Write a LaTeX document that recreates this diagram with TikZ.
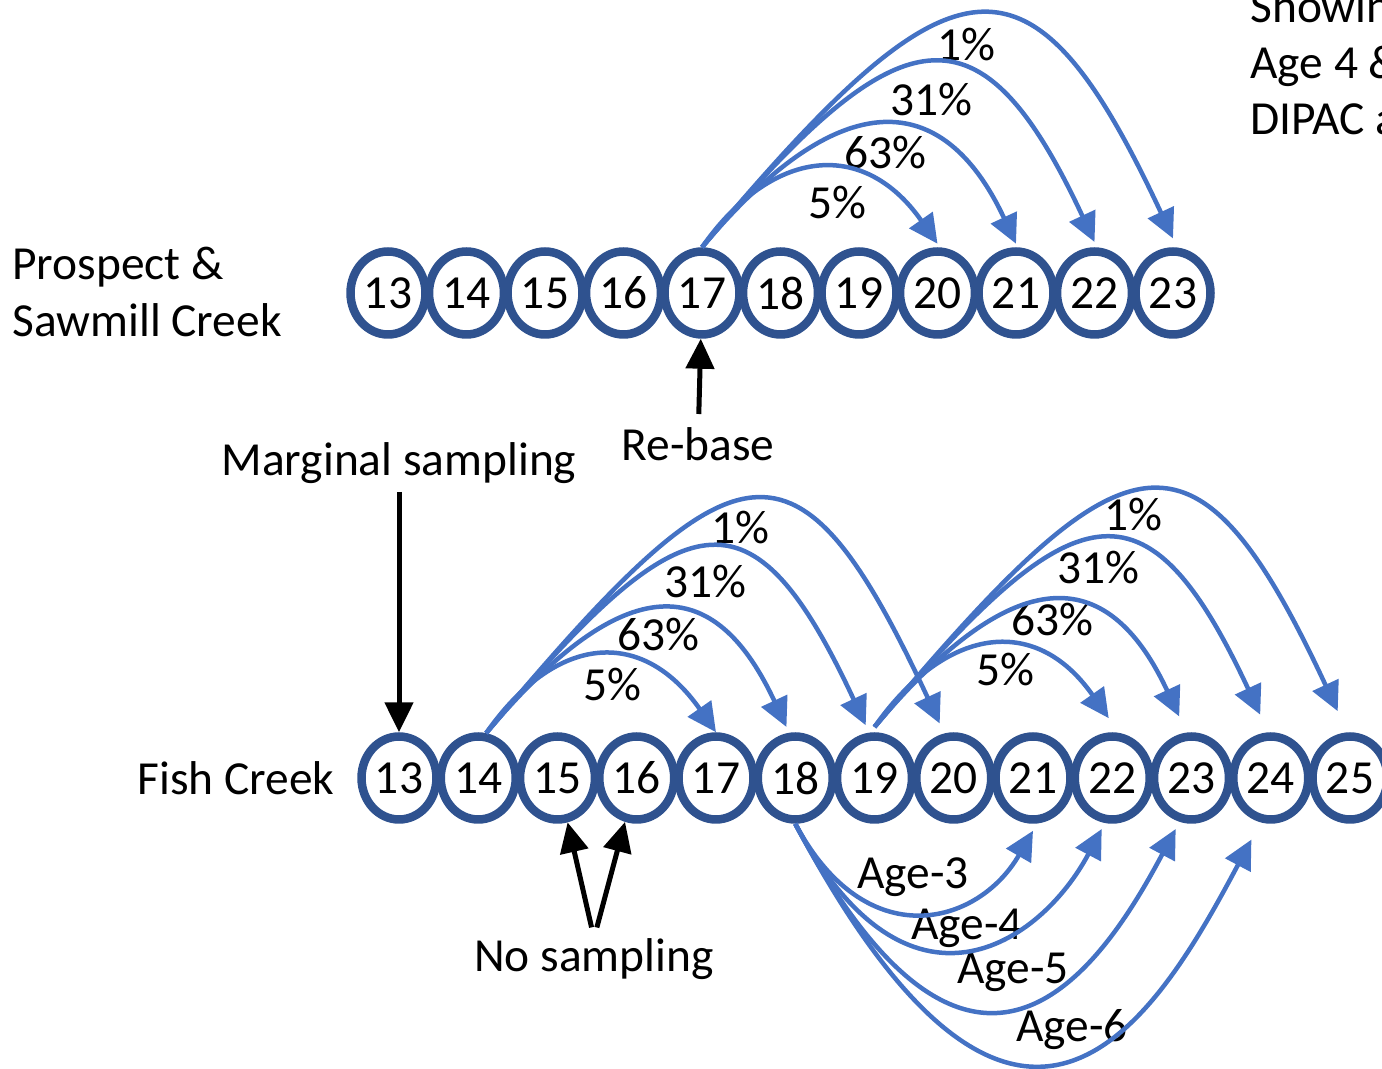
\documentclass[tikz,border=0pt]{standalone}
\usepackage{fontspec}
\setmainfont{Carlito}
\usepackage{xcolor}
\usetikzlibrary{arrows.meta}
\usetikzlibrary{shapes}
\definecolor{ringblue}{HTML}{2F528F}
\definecolor{hopblue}{HTML}{4472C4}

\begin{document}
\begin{tikzpicture}[x=0.02cm, y=0.02cm,
  every node/.style={font=\fontsize{27}{32}\selectfont, inner sep=0pt},
  yr/.style={ellipse, draw=ringblue, line width=0.17cm, fill=white,
             minimum width=1.5cm, minimum height=1.66cm},
  hop/.style={draw=hopblue, line width=0.09cm,
              -{Triangle[length=0.58cm,width=0.56cm]}},
  blk/.style={draw=black, line width=0.1cm,
              -{Triangle[length=0.6cm,width=0.56cm]}}]
\useasboundingbox (0,0) rectangle (1382,1068);
\clip (0,0) rectangle (1382,1068);

\node (p13) [yr] at (388,775) {13};
\node (p14) [yr] at (466.5,775) {14};
\node (p15) [yr] at (545,775) {15};
\node (p16) [yr] at (623.5,775) {16};
\node (p17) [yr] at (702,775) {17};
\node (p18) [yr] at (780.5,775) {18};
\node (p19) [yr] at (859,775) {19};
\node (p20) [yr] at (937.5,775) {20};
\node (p21) [yr] at (1016,775) {21};
\node (p22) [yr] at (1094.5,775) {22};
\node (p23) [yr] at (1173,775) {23};

\node (f13) [yr] at (399,290) {13};
\node (f14) [yr] at (478.25,290) {14};
\node (f15) [yr] at (557.5,290) {15};
\node (f16) [yr] at (636.75,290) {16};
\node (f17) [yr] at (716,290) {17};
\node (f18) [yr] at (795.25,290) {18};
\node (f19) [yr] at (874.5,290) {19};
\node (f20) [yr] at (953.75,290) {20};
\node (f21) [yr] at (1033,290) {21};
\node (f22) [yr] at (1112.25,290) {22};
\node (f23) [yr] at (1191.5,290) {23};
\node (f24) [yr] at (1270.75,290) {24};
\node (f25) [yr] at (1350,290) {25};

\node (ps) [align=left, anchor=west] at (12,776) {Prospect \&\\Sawmill Creek};
\node (fc) at (236,290) {Fish Creek};
\node (ms) at (399,605) {Marginal sampling};
\node (rb) at (698,624) {Re-base};
\node (ns) at (594,109) {No sampling};
\node (sh) [align=left, anchor=north west] at (1250,1079)
      {Showing\\Age 4 \&\\DIPAC a};

\node (t5) at (837,865) {5\%};
\node (t63) at (885,915) {63\%};
\node (t31) at (931,968) {31\%};
\node (t1) at (966,1023) {1\%};

\node (a5) at (612,383) {5\%};
\node (a63) at (658,433) {63\%};
\node (a31) at (705,486) {31\%};
\node (a1) at (740,540) {1\%};

\node (b5) at (1005,398) {5\%};
\node (b63) at (1052,448) {63\%};
\node (b31) at (1098,500) {31\%};
\node (b1) at (1133,553) {1\%};

\node (g3) at (913,191) {Age-3};
\node (g4) at (967,140) {Age-4};
\node (g5) at (1013,96) {Age-5};
\node (g6) at (1072,38) {Age-6};

\draw[hop] (p17.north) .. controls +(55:120) and +(125:130) .. ([yshift=2pt]p20.north);
\draw[hop] (p17.north) .. controls +(50:230) and +(115:160) .. ([yshift=2pt]p21.north);
\draw[hop] (p17.north) .. controls +(50:310) and +(115:270) .. ([yshift=3pt]p22.north);
\draw[hop] (p17.north) .. controls +(50:390) and +(115:340) .. ([yshift=5pt]p23.north);

\draw[hop] (f14.80) .. controls +(55:120) and +(125:130) .. (f17.north);
\draw[hop] (f14.80) .. controls +(50:230) and +(115:160) .. ([xshift=-5pt,yshift=3pt]f18.north);
\draw[hop] (f14.80) .. controls +(50:310) and +(115:270) .. ([xshift=-5pt,yshift=4pt]f19.north);
\draw[hop] (f14.80) .. controls +(50:390) and +(115:340) .. ([xshift=-8pt,yshift=5pt]f20.north);

\draw[hop] ([yshift=3pt]f19.north) .. controls +(55:120) and +(125:130) .. ([xshift=-2pt,yshift=8pt]f22.north);
\draw[hop] ([yshift=3pt]f19.north) .. controls +(50:230) and +(115:160) .. ([xshift=-7pt,yshift=9pt]f23.north);
\draw[hop] ([yshift=3pt]f19.north) .. controls +(50:310) and +(115:270) .. ([xshift=-6pt,yshift=10pt]f24.north);
\draw[hop] ([yshift=3pt]f19.north) .. controls +(50:390) and +(115:340) .. ([xshift=-7pt,yshift=12pt]f25.north);

\draw[hop] (f18.south) .. controls +(-62:150) and +(240:110) .. ([yshift=-4pt]f21.south);
\draw[hop] (f18.south) .. controls +(-62:240) and +(242:130) .. ([xshift=-6pt,yshift=-3pt]f22.south);
\draw[hop] (f18.south) .. controls +(-62:380) and +(242:160) .. ([xshift=-9pt,yshift=-3pt]f23.south);
\draw[hop] (f18.south) .. controls +(-62:480) and +(242:205) .. ([xshift=-11pt,yshift=-9pt]f24.south);

\draw[blk, shorten <=0.16cm] (ms) -- (f13);
\draw[blk, shorten <=0.26cm] (rb) -- (p17);
\draw[blk, shorten <=0.22cm] (ns.north) -- (f15);
\draw[blk, shorten <=0.22cm] (ns.north) -- (f16);
\end{tikzpicture}
\end{document}
